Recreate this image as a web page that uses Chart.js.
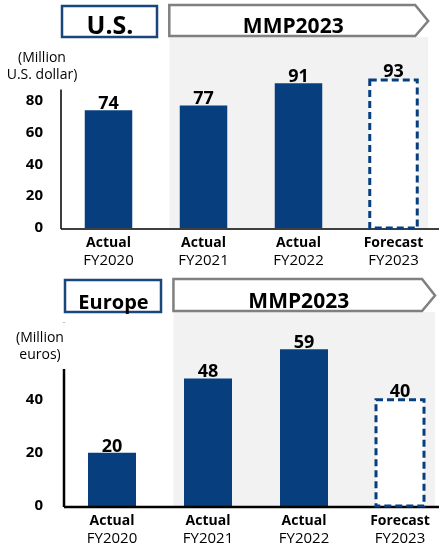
<!DOCTYPE html>
<html>
<head>
<meta charset="utf-8">
<script src="https://cdn.jsdelivr.net/npm/chart.js@4/dist/chart.umd.min.js"></script>
<style>
  html, body { margin: 0; padding: 0; background: #fff; width: 439px; height: 546px; overflow: hidden; }
  .panel { position: absolute; left: 0; }
</style>
</head>
<body>
<canvas id="usChart" class="panel" width="450" height="272" style="top:0"></canvas>
<canvas id="euChart" class="panel" width="450" height="274" style="top:272px"></canvas>
<script>
const categories = ['FY2020', 'FY2021', 'FY2022', 'FY2023'];
const kinds = ['Actual', 'Actual', 'Actual', 'Forecast'];
const usValues = [74, 77, 91, 93];
const europeValues = [20, 48, 59, 40];
const usTicks = [0, 20, 40, 60, 80];
const europeTicks = [0, 20, 40];

const BLUE = '#073f7e';
const FONT = "'Open Sans', 'Noto Sans', sans-serif";

// grey plan band, header boxes, axis lines, value and category labels
const panelPlugin = {
  id: 'panel',
  beforeDatasetsDraw(chart, args, o) {
    const { ctx, chartArea: a, scales: { x, y } } = chart;
    const w = x.getPixelForValue(1) - x.getPixelForValue(0);
    const gx0 = x.getPixelForValue(1) - w * 0.36;
    const gx1 = x.getPixelForValue(3) + w * 0.365;
    ctx.save();
    ctx.fillStyle = '#f2f2f2';
    ctx.fillRect(gx0, a.top, gx1 - gx0, y.getPixelForValue(0) - a.top);
    ctx.restore();
  },
  afterDatasetsDraw(chart, args, o) {
    const { ctx, chartArea: a, scales: { x, y } } = chart;
    const w = x.getPixelForValue(1) - x.getPixelForValue(0);
    const base = y.getPixelForValue(0);
    ctx.save();

    // axes
    ctx.strokeStyle = '#000';
    ctx.lineWidth = o.axisWidth;
    ctx.beginPath();
    ctx.moveTo(a.left, y.getPixelForValue(o.axisTop));
    ctx.lineTo(a.left, base + 1);
    ctx.moveTo(a.left, base + 1);
    ctx.lineTo(chart.width, base + 1);
    ctx.stroke();

    // unit label (its white box cuts the axis line where they overlap)
    if (o.unitMask) {
      ctx.fillStyle = '#fff';
      ctx.fillRect(a.left - 4, o.unitY - 15, 8, 46);
    }
    ctx.font = '14px ' + FONT;
    ctx.textAlign = 'center';
    ctx.textBaseline = 'middle';
    ctx.fillStyle = '#000';
    o.unit.forEach((line, i) => {
      ctx.fillText(line, o.unitX, o.unitY + i * 17);
    });

    // forecast outline + value labels
    const meta = chart.getDatasetMeta(0);
    const values = chart.data.datasets[0].data;
    meta.data.forEach((bar, i) => {
      const p = bar.getProps(['x', 'y', 'width', 'base'], true);
      let ty = p.y - 1;
      if (kinds[i] === 'Forecast') {
        ctx.setLineDash([7, 4]);
        ctx.lineWidth = 3;
        ctx.strokeStyle = BLUE;
        ctx.strokeRect(p.x - p.width / 2, p.y, p.width, p.base - p.y);
        ctx.setLineDash([]);
        ty = p.y - 3;
      }
      ctx.fillStyle = '#000';
      ctx.font = 'bold 18px ' + FONT;
      ctx.textAlign = 'center';
      ctx.textBaseline = 'alphabetic';
      ctx.fillText(values[i], p.x, ty);

      // category labels
      ctx.textBaseline = 'middle';
      ctx.font = 'bold 14px ' + FONT;
      ctx.fillText(kinds[i], p.x, base + 15);
      ctx.font = '15px ' + FONT;
      ctx.fillText(categories[i], p.x, base + 32.5);
    });

    // header: region box and MMP2023 arrow
    const top = a.top - o.headHeight;
    const boxR = x.getPixelForValue(0) + w / 2 + 1;
    ctx.lineWidth = 2.5;
    ctx.strokeStyle = '#1b467c';
    ctx.fillStyle = '#fff';
    ctx.fillRect(a.left + 1, top, boxR - a.left - 1, o.headHeight);
    ctx.strokeRect(a.left + 1, top, boxR - a.left - 1, o.headHeight);
    ctx.fillStyle = '#000';
    ctx.font = 'bold ' + o.titleSize + 'px ' + FONT;
    ctx.textAlign = 'center';
    ctx.textBaseline = 'alphabetic';
    ctx.fillText(o.title, (a.left + boxR) / 2 + 1, a.top - 3);

    const ax0 = x.getPixelForValue(1) - w * 0.36;
    const ax1 = x.getPixelForValue(3) + w * 0.365;
    const mid = top + o.headHeight / 2 - 0.5;
    ctx.beginPath();
    ctx.moveTo(ax0, top - 1);
    ctx.lineTo(ax1 - 13, top - 1);
    ctx.lineTo(ax1, mid);
    ctx.lineTo(ax1 - 13, a.top - 1);
    ctx.lineTo(ax0, a.top - 1);
    ctx.closePath();
    ctx.fillStyle = '#fff';
    ctx.fill();
    ctx.strokeStyle = '#808080';
    ctx.stroke();
    ctx.fillStyle = '#000';
    ctx.font = 'bold 21px ' + FONT;
    ctx.fillText('MMP2023', (ax0 + ax1 - 13) / 2 + 1, a.top - 4);
    ctx.restore();
  }
};

function makeChart(id, values, ticks, max, leftWidth, pad, panel) {
  return new Chart(document.getElementById(id), {
    type: 'bar',
    data: {
      labels: categories,
      datasets: [{
        data: values,
        backgroundColor: values.map((v, i) => kinds[i] === 'Forecast' ? '#ffffff' : BLUE),
        borderWidth: 0,
        barPercentage: 0.5,
        categoryPercentage: 1
      }]
    },
    options: {
      responsive: false,
      animation: false,
      devicePixelRatio: 1,
      layout: { padding: pad },
      plugins: { legend: { display: false }, tooltip: { enabled: false }, panel: panel },
      scales: {
        x: { display: false },
        y: {
          min: 0,
          max: max,
          afterBuildTicks: s => { s.ticks = ticks.map(v => ({ value: v })); },
          afterFit: s => { s.width = leftWidth; },
          grid: { display: false, drawTicks: false },
          border: { display: false },
          ticks: { color: '#000', padding: leftWidth - 43, font: { family: FONT, size: 15, weight: 'bold' } }
        }
      }
    },
    plugins: [panelPlugin]
  });
}

makeChart('usChart', usValues, usTicks, 120, 61,
  { top: 37, bottom: 44, left: 0, right: 9 },
  { title: 'U.S.', titleSize: 25, headHeight: 31, axisTop: 87, axisWidth: 1.5,
    unit: ['(Million', 'U.S. dollar)'], unitX: 42, unitY: 58, unitMask: false });

makeChart('euChart', europeValues, europeTicks, 73, 64,
  { top: 40, bottom: 40, left: 0, right: 2 },
  { title: 'Europe', titleSize: 20, headHeight: 32, axisTop: 69, axisWidth: 2.5,
    unit: ['(Million', 'euros)'], unitX: 40, unitY: 66, unitMask: true });
</script>
</body>
</html>
